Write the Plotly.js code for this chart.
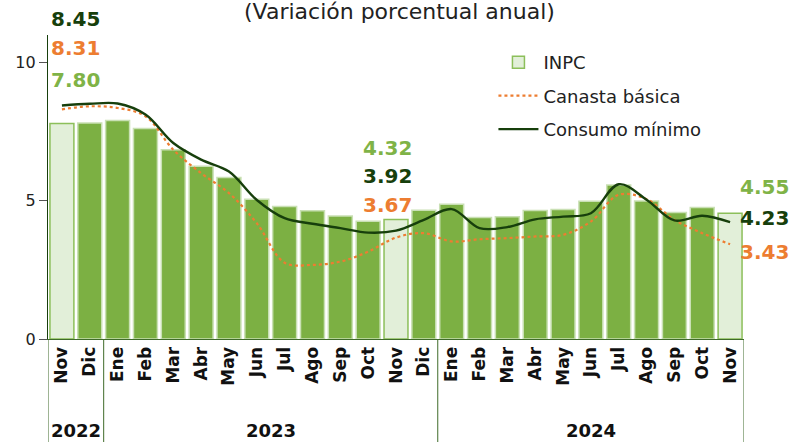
<!DOCTYPE html>
<html><head><meta charset="utf-8">
<script src="https://cdn.plot.ly/plotly-3.0.1.min.js"></script>
<style>html,body{margin:0;padding:0;background:#fff}#chart{width:793px;height:442px}</style>
</head><body><div id="chart"></div>
<script>
const months = ["Nov","Dic","Ene","Feb","Mar","Abr","May","Jun","Jul","Ago","Sep","Oct","Nov","Dic","Ene","Feb","Mar","Abr","May","Jun","Jul","Ago","Sep","Oct","Nov"];
const years = ["2022","2023","2024"];
const inpc = [7.80,7.82,7.91,7.62,6.85,6.25,5.84,5.06,4.79,4.64,4.45,4.26,4.32,4.66,4.88,4.40,4.42,4.65,4.69,4.98,5.57,4.99,4.58,4.76,4.55];
const canasta = [8.31,8.42,8.36,8.06,6.85,6.00,5.28,4.19,2.76,2.68,2.80,3.16,3.67,3.83,3.53,3.61,3.65,3.71,3.77,4.25,5.22,5.06,4.31,3.83,3.43];
const consumo = [8.45,8.51,8.52,8.12,7.09,6.49,6.06,5.03,4.37,4.17,4.01,3.85,3.92,4.31,4.70,4.01,4.05,4.33,4.43,4.55,5.60,5.04,4.29,4.46,4.23];

const idx = months.map((m,i)=>i);
const highlight = [0,12,24];
const barFill = idx.map(i => highlight.includes(i) ? '#e2efd9' : '#7cb043');
const barLine = idx.map(i => highlight.includes(i) ? '#8cbf5a' : '#c9e0b4');

const cDark = '#173f0c', cOrange = '#ed7d31', cLight = '#7fb347';
const F = 'DejaVu Sans, Arial, sans-serif';

const traces = [
  {type:'bar', x:idx, y:inpc, name:'INPC', width:0.86, legendgroup:'a',
   marker:{color:barFill, line:{color:barLine, width:1.5}}},
  {type:'scatter', mode:'lines', x:idx, y:canasta, name:'Canasta básica', legendgroup:'b',
   line:{color:cOrange, width:2.2, dash:'dot', shape:'spline', smoothing:1}},
  {type:'scatter', mode:'lines', x:idx, y:consumo, name:'Consumo mínimo', legendgroup:'c',
   line:{color:cDark, width:2.4, shape:'spline', smoothing:1}}
];

function lab(xr,x,yr,y,t,c){return {xref:xr,yref:yr,x:x,y:y,text:'<b>'+t+'</b>',showarrow:false,
  font:{family:F,size:20,color:c},xanchor:'center',yanchor:'middle'};}

const ann = [
  {xref:'paper',yref:'paper',x:0.505,y:1.078,text:'(Variación porcentual anual)',showarrow:false,
   font:{family:F,size:22,color:'#222'},xanchor:'center',yanchor:'middle'},
  lab('paper',0.040,'paper',1.053,consumo[0].toFixed(2),cDark),
  lab('paper',0.040,'paper',0.957,canasta[0].toFixed(2),cOrange),
  lab('paper',0.040,'paper',0.852,inpc[0].toFixed(2),cLight),
  lab('x',11.7,'paper',0.628,inpc[12].toFixed(2),cLight),
  lab('x',11.7,'paper',0.536,consumo[12].toFixed(2),cDark),
  lab('x',11.7,'paper',0.441,canasta[12].toFixed(2),cOrange),
  lab('paper',1.030,'paper',0.500,inpc[24].toFixed(2),cLight),
  lab('paper',1.030,'paper',0.398,consumo[24].toFixed(2),cDark),
  lab('paper',1.030,'paper',0.286,canasta[24].toFixed(2),cOrange),
  {xref:'x',yref:'paper',x:0.5,y:-0.30,yanchor:'middle',text:'<b>'+years[0]+'</b>',showarrow:false,font:{family:F,size:18,color:'#111'}},
  {xref:'x',yref:'paper',x:7.5,y:-0.30,yanchor:'middle',text:'<b>'+years[1]+'</b>',showarrow:false,font:{family:F,size:18,color:'#111'}},
  {xref:'x',yref:'paper',x:19,y:-0.30,yanchor:'middle',text:'<b>'+years[2]+'</b>',showarrow:false,font:{family:F,size:18,color:'#111'}}
];

const boxC = '#3f6b2a';
const shapes = [-0.5,1.5,13.5,24.5].map(xv => ({type:'line',xref:'x',yref:'paper',x0:xv,x1:xv,y0:0,y1:-0.4,line:{color:boxC,width:1}}));

const layout = {
  width:793, height:442,
  margin:{l:48,r:49,t:35,b:103},
  paper_bgcolor:'#fff', plot_bgcolor:'#fff',
  showlegend:true,
  legend:{x:0.64,y:0.97,xanchor:'left',yanchor:'top',bgcolor:'rgba(0,0,0,0)',
    font:{family:F,size:18,color:'#222'},tracegroupgap:7,itemwidth:40},
  xaxis:{range:[-0.5,24.5],tickmode:'array',tickvals:idx,ticktext:months.map(m=>'<b>'+m+'</b>'),
    tickangle:-90,tickfont:{family:F,size:17,color:'#111'},showgrid:false,zeroline:false,
    showline:true,linecolor:boxC,linewidth:1,ticks:'',fixedrange:true},
  yaxis:{range:[0,11],tickvals:[0,5,10],ticktext:['0','5','10'],tickfont:{family:F,size:16,color:'#222'},
    showgrid:false,zeroline:false,showline:true,linecolor:cDark,linewidth:1.2,ticks:'outside',ticklen:8,
    tickcolor:'#555',fixedrange:true},
  annotations:ann, shapes:shapes
};
Plotly.newPlot('chart',traces,layout,{displayModeBar:false,staticPlot:true});
</script></body></html>
